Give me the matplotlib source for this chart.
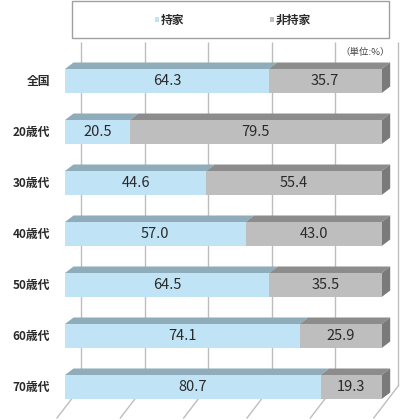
import matplotlib
matplotlib.use('Agg')
import matplotlib.pyplot as plt
from matplotlib.patches import Polygon, Rectangle

plt.rcParams['font.family'] = ['Noto Sans CJK JP', 'DejaVu Sans']

categories = ['全国', '20歳代', '30歳代', '40歳代', '50歳代', '60歳代', '70歳代']
owned = [64.3, 20.5, 44.6, 57.0, 64.5, 74.1, 80.7]
not_owned = [35.7, 79.5, 55.4, 43.0, 35.5, 25.9, 19.3]
legend_labels = ['持家', '非持家']
grid_ticks = [0, 20, 40, 60, 80, 100]
unit_label = '（単位:%）'

W, H = 400, 420
fig = plt.figure(figsize=(W / 100, H / 100), dpi=100)
ax = fig.add_axes([0, 0, 1, 1])

# pixel geometry of the value axis
X0, X1 = 65.0, 381.7
ux = 100.0 / (X1 - X0)        # value units per pixel
Y0, ROW = 81.0, 51.0          # first row centre (px), row spacing (px)
uy = 1.0 / ROW
ax.set_xlim(-X0 * ux, (W - X0) * ux)
ax.set_ylim((H - Y0) * uy, (0 - Y0) * uy)
ax.axis('off')

# 3D depth parameters (pixels)
bdx, bdy = 8.5 * ux, -6.5 * uy          # bar depth
wdx, wdy = 16.5 * ux, -13.0 * uy        # back wall offset
fdx, fdy = -8.0 * ux, 6.0 * uy          # front plane offset
half = 12.0 * uy

c_blue_front, c_blue_top = '#C0E4F6', '#8FACBA'
c_grey_front, c_grey_top, c_grey_side = '#BEBEBE', '#8C8C8C', '#7A7A7A'
grid_c = '#BDBDBD'
txt_c = '#2A2A2A'

n = len(categories)
grid_top = (42 - Y0) * uy
last_bottom = (n - 1) + half
# back wall grid lines
for v in grid_ticks:
    ax.plot([v + wdx, v + wdx], [grid_top, last_bottom + wdy],
            color=grid_c, lw=1.0, zorder=1, solid_capstyle='butt')
    # floor lines
    ax.plot([v + fdx, v + wdx], [last_bottom + fdy + 13 * uy, last_bottom + wdy],
            color=grid_c, lw=1.0, zorder=1, clip_on=False)


def box(x0, x1, yc, front, top, side=None, z=3):
    yt, yb = yc - half, yc + half
    ax.add_patch(Polygon([(x0, yt), (x1, yt), (x1 + bdx, yt + bdy), (x0 + bdx, yt + bdy)],
                         closed=True, facecolor=top, edgecolor='none', zorder=z))
    ax.add_patch(Rectangle((x0, yt), x1 - x0, yb - yt, facecolor=front,
                           edgecolor='none', zorder=z + 0.1))
    if side is not None:
        ax.add_patch(Polygon([(x1, yt), (x1 + bdx, yt + bdy), (x1 + bdx, yb + bdy), (x1, yb)],
                             closed=True, facecolor=side, edgecolor='none', zorder=z))


for i, (cat, a, b) in enumerate(zip(categories, owned, not_owned)):
    box(0, a, i, c_blue_front, c_blue_top, None, z=3)
    box(a, a + b, i, c_grey_front, c_grey_top, c_grey_side, z=4)
    ax.text(a / 2, i, f'{a:.1f}', ha='center', va='center', fontsize=10.5,
            color=txt_c, zorder=6)
    ax.text(a + b / 2, i, f'{b:.1f}', ha='center', va='center', fontsize=10.5,
            color=txt_c, zorder=6)
    ax.text(-15 * ux, i, cat, ha='right', va='center', fontsize=8.5,
            color=txt_c, fontweight='bold', zorder=6)

ax.text(100 + 8.5 * ux, (52 - Y0) * uy, unit_label, ha='right', va='center',
        fontsize=6.8, color='#444444')

# legend box (figure pixel coordinates)
def fx(x):
    return x / W


def fy(y):
    return 1 - y / H


fig.patches.append(Rectangle((fx(72), fy(38)), fx(389) - fx(72), fy(1) - fy(38),
                             transform=fig.transFigure, facecolor='white',
                             edgecolor='#A0A0A0', lw=1.0))
leg_x = [155, 270]
for lx, lab, col in zip(leg_x, legend_labels, [c_blue_front, c_grey_front]):
    fig.patches.append(Rectangle((fx(lx), fy(22)), fx(4), 5 / H,
                                 transform=fig.transFigure, facecolor=col,
                                 edgecolor='none'))
    fig.text(fx(lx + 6), fy(20), lab, ha='left', va='center', fontsize=8.5,
             color=txt_c, fontweight='bold')

fig.savefig('out.png', dpi=100)
